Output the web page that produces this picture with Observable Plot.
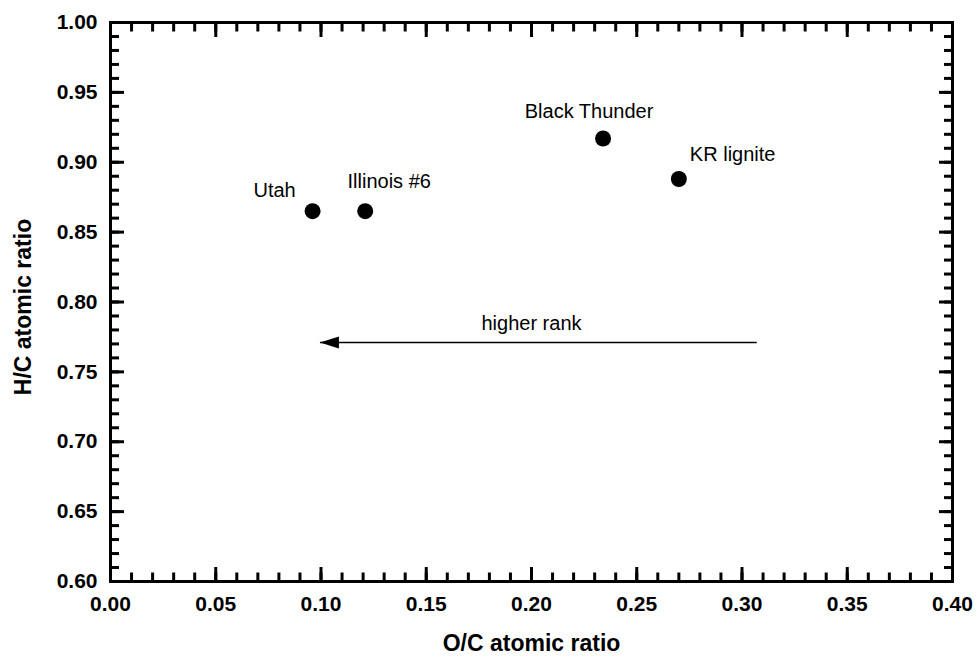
<!DOCTYPE html>
<html>
<head>
<meta charset="utf-8">
<script src="https://cdn.jsdelivr.net/npm/d3@7"></script>
<script src="https://cdn.jsdelivr.net/npm/@observablehq/plot@0.6"></script>
<style>
  html, body { margin: 0; padding: 0; background: #fff; }
  #chart svg { font-family: "Liberation Sans", Arial, sans-serif; }
</style>
</head>
<body>
<div id="chart"></div>
<script>
// Coal samples: atomic ratios
const coals = ["Utah", "Illinois #6", "Black Thunder", "KR lignite"];
const oc = [0.096, 0.121, 0.234, 0.270];
const hc = [0.865, 0.865, 0.917, 0.888];

// Axis ticks
const xTicks = [0.00, 0.05, 0.10, 0.15, 0.20, 0.25, 0.30, 0.35, 0.40];
const yTicks = [0.60, 0.65, 0.70, 0.75, 0.80, 0.85, 0.90, 0.95, 1.00];

// "higher rank" arrow: from start (x) to tip (x) at a constant H/C
const rankArrow = {label: "higher rank", fromX: 0.307, toX: 0.0995, y: 0.771, labelX: 0.20};

const points = coals.map((name, i) => ({name, oc: oc[i], hc: hc[i]}));

const xMinor = d3.range(0, 41).map(i => i / 100);
const yMinor = d3.range(60, 101).map(i => i / 100);

// label placement around each dot
const labelStyle = {
  "Utah":          {dx: -38, dy: -21, textAnchor: "middle"},
  "Illinois #6":   {dx: 24,  dy: -30, textAnchor: "middle"},
  "Black Thunder": {dx: -14, dy: -27, textAnchor: "middle"},
  "KR lignite":    {dx: 11,  dy: -24, textAnchor: "start"}
};

// filled arrowhead pointing left, tip at origin
const arrowHead = {
  draw(ctx) {
    ctx.moveTo(0, 0);
    ctx.lineTo(19, -6);
    ctx.lineTo(19, 6);
    ctx.closePath();
  }
};

const fmt = d3.format(".2f");
const tickStyle = {strokeWidth: 3, tickFormat: () => ""};

const plot = Plot.plot({
  width: 977,
  height: 657,
  marginLeft: 110,
  marginRight: 25,
  marginTop: 22,
  marginBottom: 76,
  x: {domain: [0, 0.4]},
  y: {domain: [0.6, 1.0]},
  marks: [
    // inward ticks on all four sides
    Plot.axisX(xMinor, {anchor: "bottom", tickSize: -8.5, ...tickStyle}),
    Plot.axisX(xTicks, {anchor: "bottom", tickSize: -14, ...tickStyle}),
    Plot.axisX(xMinor, {anchor: "top", tickSize: -8.5, ...tickStyle}),
    Plot.axisX(xTicks, {anchor: "top", tickSize: -14, ...tickStyle}),
    Plot.axisY(yMinor, {anchor: "left", tickSize: -9, ...tickStyle}),
    Plot.axisY(yTicks, {anchor: "left", tickSize: -14, ...tickStyle}),
    Plot.axisY(yMinor, {anchor: "right", tickSize: -9, ...tickStyle}),
    Plot.axisY(yTicks, {anchor: "right", tickSize: -14, ...tickStyle}),
    // tick labels
    Plot.axisX(xTicks, {anchor: "bottom", tickSize: 0, tickPadding: 15, tickFormat: fmt,
      fontSize: 21, fontWeight: "bold", label: null}),
    Plot.axisY(yTicks, {anchor: "left", tickSize: 0, tickPadding: 13, tickFormat: fmt,
      fontSize: 21, fontWeight: "bold", label: null}),
    // axis titles
    Plot.text(["O/C atomic ratio"], {frameAnchor: "bottom", dy: 62, lineAnchor: "middle",
      textAnchor: "middle", fontSize: 23, fontWeight: "bold", fill: "black"}),
    Plot.text(["H/C atomic ratio"], {frameAnchor: "left", dx: -87, dy: 5, rotate: -90,
      textAnchor: "middle", lineAnchor: "middle", fontSize: 23, fontWeight: "bold", fill: "black"}),
    Plot.frame({stroke: "black", strokeWidth: 3}),
    // rank arrow
    Plot.link([rankArrow], {x1: "fromX", x2: "toX", y1: "y", y2: "y", stroke: "black", strokeWidth: 1.5}),
    Plot.dot([rankArrow], {x: "toX", y: "y", symbol: arrowHead, fill: "black", stroke: "none"}),
    Plot.text([rankArrow], {x: "labelX", y: "y", text: "label", dy: -19, lineAnchor: "middle",
      fontSize: 20, fill: "black"}),
    // samples
    Plot.dot(points, {x: "oc", y: "hc", r: 8, fill: "black", stroke: "none"}),
    ...points.map(p => Plot.text([p], {x: "oc", y: "hc", text: "name", lineAnchor: "middle",
      fontSize: 20, fill: "black", ...labelStyle[p.name]}))
  ]
});

document.getElementById("chart").appendChild(plot);
</script>
</body>
</html>
